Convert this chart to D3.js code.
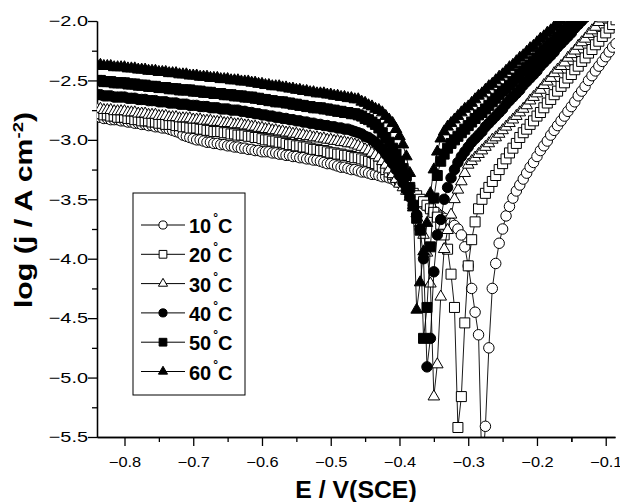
<!DOCTYPE html>
<html lang="en">
<head>
<meta charset="UTF-8">
<title>Tafel plots</title>
<script src="https://d3js.org/d3.v7.min.js"></script>
<style>
  body { margin: 0; background: #fff; }
  text { font-family: "Liberation Sans", Arial, sans-serif; fill: #000; }
</style>
</head>
<body>
<div id="chart"></div>
<script>

// potential of each sampled point, V vs SCE (same scan grid for every temperature)
var potential = [
  -0.840,-0.835,-0.830,-0.825,-0.820,-0.815,-0.810,-0.805,-0.800,-0.795,
  -0.790,-0.785,-0.780,-0.775,-0.770,-0.765,-0.760,-0.755,-0.750,-0.745,
  -0.740,-0.735,-0.730,-0.725,-0.720,-0.715,-0.710,-0.705,-0.700,-0.695,
  -0.690,-0.685,-0.680,-0.675,-0.670,-0.665,-0.660,-0.655,-0.650,-0.645,
  -0.640,-0.635,-0.630,-0.625,-0.620,-0.615,-0.610,-0.605,-0.600,-0.595,
  -0.590,-0.585,-0.580,-0.575,-0.570,-0.565,-0.560,-0.555,-0.550,-0.545,
  -0.540,-0.535,-0.530,-0.525,-0.520,-0.515,-0.510,-0.505,-0.500,-0.495,
  -0.490,-0.485,-0.480,-0.475,-0.470,-0.465,-0.460,-0.455,-0.450,-0.445,
  -0.440,-0.435,-0.430,-0.425,-0.420,-0.415,-0.410,-0.405,-0.400,-0.395,
  -0.390,-0.385,-0.380,-0.375,-0.370,-0.365,-0.360,-0.355,-0.350,-0.345,
  -0.340,-0.335,-0.330,-0.325,-0.320,-0.315,-0.310,-0.305,-0.300,-0.295,
  -0.290,-0.285,-0.280,-0.275,-0.270,-0.265,-0.260,-0.255,-0.250,-0.245,
  -0.240,-0.235,-0.230,-0.225,-0.220,-0.215,-0.210,-0.205,-0.200,-0.195,
  -0.190,-0.185,-0.180,-0.175,-0.170,-0.165,-0.160,-0.155,-0.150,-0.145,
  -0.140,-0.135,-0.130,-0.125,-0.120,-0.115,-0.110,-0.105,-0.100,-0.095,
  -0.090,-0.085
];

// log(j / A cm-2), one value per potential above
var logj10 = [
  -2.81,-2.81,-2.82,-2.82,-2.83,-2.83,-2.83,-2.84,-2.84,-2.85,
  -2.85,-2.86,-2.86,-2.87,-2.87,-2.88,-2.88,-2.89,-2.89,-2.90,
  -2.90,-2.91,-2.92,-2.93,-2.94,-2.96,-2.97,-2.98,-2.99,-3.00,
  -3.00,-3.01,-3.02,-3.02,-3.03,-3.03,-3.04,-3.04,-3.05,-3.05,
  -3.06,-3.06,-3.07,-3.07,-3.08,-3.08,-3.09,-3.09,-3.10,-3.10,
  -3.10,-3.11,-3.11,-3.12,-3.12,-3.13,-3.13,-3.14,-3.14,-3.15,
  -3.15,-3.16,-3.16,-3.17,-3.17,-3.18,-3.19,-3.20,-3.20,-3.21,
  -3.22,-3.23,-3.23,-3.24,-3.25,-3.25,-3.26,-3.27,-3.27,-3.28,
  -3.29,-3.29,-3.30,-3.31,-3.31,-3.32,-3.33,-3.35,-3.36,-3.38,
  -3.41,-3.44,-3.47,-3.49,-3.52,-3.54,-3.56,-3.58,-3.60,-3.62,
  -3.64,-3.66,-3.68,-3.70,-3.72,-3.75,-3.80,-3.90,-4.06,-4.25,
  -4.45,-4.64,-5.80,-5.41,-4.75,-4.25,-4.04,-3.87,-3.75,-3.64,
  -3.56,-3.49,-3.43,-3.38,-3.33,-3.28,-3.23,-3.19,-3.14,-3.09,
  -3.05,-3.01,-2.96,-2.92,-2.88,-2.84,-2.80,-2.76,-2.72,-2.68,
  -2.63,-2.59,-2.55,-2.50,-2.46,-2.42,-2.38,-2.34,-2.30,-2.26,
  -2.22,-2.19
];
var logj20 = [
  -2.78,-2.78,-2.79,-2.79,-2.80,-2.80,-2.81,-2.81,-2.81,-2.82,
  -2.82,-2.83,-2.83,-2.84,-2.84,-2.84,-2.85,-2.85,-2.86,-2.86,
  -2.87,-2.87,-2.87,-2.88,-2.88,-2.89,-2.89,-2.90,-2.90,-2.90,
  -2.91,-2.91,-2.92,-2.92,-2.93,-2.93,-2.93,-2.94,-2.94,-2.95,
  -2.95,-2.96,-2.96,-2.96,-2.97,-2.97,-2.98,-2.98,-2.99,-3.00,
  -3.00,-3.01,-3.01,-3.02,-3.02,-3.03,-3.04,-3.04,-3.05,-3.05,
  -3.06,-3.06,-3.07,-3.08,-3.08,-3.09,-3.09,-3.10,-3.11,-3.11,
  -3.12,-3.12,-3.13,-3.13,-3.14,-3.15,-3.15,-3.16,-3.17,-3.18,
  -3.19,-3.20,-3.22,-3.23,-3.25,-3.27,-3.29,-3.31,-3.33,-3.36,
  -3.40,-3.42,-3.45,-3.47,-3.50,-3.52,-3.55,-3.58,-3.61,-3.65,
  -3.71,-3.80,-3.92,-4.13,-4.41,-5.42,-5.16,-4.54,-4.06,-3.84,
  -3.69,-3.58,-3.50,-3.45,-3.40,-3.35,-3.30,-3.25,-3.20,-3.16,
  -3.11,-3.07,-3.03,-2.98,-2.94,-2.91,-2.87,-2.84,-2.80,-2.77,
  -2.73,-2.69,-2.66,-2.62,-2.59,-2.55,-2.52,-2.48,-2.45,-2.41,
  -2.38,-2.34,-2.31,-2.27,-2.24,-2.20,-2.17,-2.13,-2.10,-2.06,
  -2.03,-1.99
];
var logj30 = [
  -2.74,-2.74,-2.75,-2.75,-2.75,-2.76,-2.76,-2.76,-2.76,-2.77,
  -2.77,-2.77,-2.78,-2.78,-2.78,-2.79,-2.79,-2.79,-2.80,-2.80,
  -2.80,-2.81,-2.81,-2.81,-2.82,-2.82,-2.82,-2.82,-2.83,-2.83,
  -2.83,-2.84,-2.84,-2.84,-2.85,-2.85,-2.85,-2.86,-2.86,-2.86,
  -2.87,-2.87,-2.87,-2.88,-2.88,-2.89,-2.89,-2.90,-2.90,-2.91,
  -2.91,-2.92,-2.92,-2.93,-2.93,-2.94,-2.94,-2.95,-2.95,-2.96,
  -2.96,-2.97,-2.97,-2.98,-2.98,-2.99,-2.99,-3.00,-3.00,-3.01,
  -3.01,-3.02,-3.02,-3.03,-3.03,-3.04,-3.05,-3.06,-3.08,-3.09,
  -3.11,-3.13,-3.15,-3.18,-3.21,-3.25,-3.29,-3.33,-3.37,-3.40,
  -3.43,-3.48,-3.55,-3.62,-3.70,-3.80,-3.95,-4.21,-5.16,-4.89,
  -4.32,-3.92,-3.76,-3.63,-3.50,-3.42,-3.35,-3.28,-3.21,-3.18,
  -3.15,-3.12,-3.09,-3.06,-3.03,-3.00,-2.98,-2.95,-2.92,-2.89,
  -2.86,-2.83,-2.80,-2.77,-2.74,-2.71,-2.67,-2.64,-2.61,-2.58,
  -2.54,-2.51,-2.48,-2.44,-2.41,-2.38,-2.35,-2.31,-2.28,-2.25,
  -2.21,-2.18,-2.15,-2.11,-2.08,-2.05,-2.01,-1.98
];
var logj40 = [
  -2.62,-2.62,-2.63,-2.63,-2.63,-2.64,-2.64,-2.64,-2.64,-2.65,
  -2.65,-2.65,-2.66,-2.66,-2.66,-2.67,-2.67,-2.67,-2.68,-2.68,
  -2.68,-2.69,-2.69,-2.69,-2.70,-2.70,-2.70,-2.71,-2.71,-2.71,
  -2.72,-2.72,-2.72,-2.73,-2.73,-2.73,-2.74,-2.74,-2.74,-2.75,
  -2.75,-2.75,-2.76,-2.76,-2.77,-2.77,-2.78,-2.78,-2.79,-2.79,
  -2.80,-2.80,-2.81,-2.81,-2.82,-2.82,-2.83,-2.83,-2.84,-2.84,
  -2.85,-2.85,-2.86,-2.86,-2.87,-2.87,-2.88,-2.88,-2.89,-2.89,
  -2.90,-2.90,-2.91,-2.91,-2.92,-2.93,-2.94,-2.95,-2.97,-2.98,
  -3.00,-3.02,-3.05,-3.08,-3.12,-3.16,-3.20,-3.25,-3.30,-3.36,
  -3.42,-3.48,-3.55,-3.63,-3.75,-4.00,-4.91,-4.67,-4.11,-3.80,
  -3.67,-3.50,-3.40,-3.32,-3.25,-3.19,-3.14,-3.10,-3.06,-3.02,
  -2.99,-2.96,-2.93,-2.89,-2.86,-2.83,-2.80,-2.77,-2.74,-2.70,
  -2.67,-2.64,-2.61,-2.58,-2.54,-2.51,-2.48,-2.45,-2.42,-2.38,
  -2.35,-2.32,-2.29,-2.26,-2.22,-2.19,-2.16,-2.13,-2.10,-2.06,
  -2.03,-2.00,-1.97
];
var logj50 = [
  -2.50,-2.50,-2.51,-2.51,-2.51,-2.52,-2.52,-2.52,-2.52,-2.53,
  -2.53,-2.53,-2.54,-2.54,-2.54,-2.55,-2.55,-2.55,-2.56,-2.56,
  -2.56,-2.57,-2.57,-2.57,-2.58,-2.58,-2.58,-2.58,-2.59,-2.59,
  -2.59,-2.60,-2.60,-2.60,-2.61,-2.61,-2.61,-2.62,-2.62,-2.62,
  -2.63,-2.63,-2.63,-2.64,-2.64,-2.64,-2.65,-2.65,-2.66,-2.66,
  -2.67,-2.67,-2.68,-2.68,-2.68,-2.69,-2.69,-2.70,-2.70,-2.71,
  -2.71,-2.72,-2.72,-2.73,-2.73,-2.73,-2.74,-2.74,-2.75,-2.75,
  -2.76,-2.76,-2.77,-2.77,-2.78,-2.78,-2.79,-2.80,-2.82,-2.83,
  -2.85,-2.87,-2.90,-2.94,-2.98,-3.02,-3.07,-3.12,-3.18,-3.24,
  -3.30,-3.40,-3.55,-3.66,-3.76,-4.67,-4.41,-3.90,-3.49,-3.30,
  -3.18,-3.12,-3.07,-3.03,-3.00,-2.97,-2.94,-2.91,-2.88,-2.85,
  -2.82,-2.79,-2.77,-2.74,-2.71,-2.68,-2.65,-2.62,-2.59,-2.57,
  -2.54,-2.51,-2.48,-2.45,-2.42,-2.39,-2.37,-2.34,-2.31,-2.28,
  -2.25,-2.22,-2.19,-2.17,-2.14,-2.11,-2.08,-2.05,-2.02,-1.99
];
var logj60 = [
  -2.37,-2.37,-2.38,-2.38,-2.38,-2.39,-2.39,-2.39,-2.39,-2.40,
  -2.40,-2.40,-2.41,-2.41,-2.41,-2.42,-2.42,-2.42,-2.43,-2.43,
  -2.43,-2.44,-2.44,-2.44,-2.45,-2.45,-2.45,-2.46,-2.46,-2.46,
  -2.47,-2.47,-2.47,-2.48,-2.48,-2.48,-2.49,-2.49,-2.49,-2.50,
  -2.50,-2.50,-2.51,-2.51,-2.51,-2.52,-2.52,-2.53,-2.53,-2.54,
  -2.54,-2.55,-2.55,-2.55,-2.56,-2.56,-2.57,-2.57,-2.58,-2.58,
  -2.59,-2.59,-2.60,-2.60,-2.61,-2.61,-2.61,-2.62,-2.62,-2.63,
  -2.63,-2.64,-2.64,-2.65,-2.65,-2.66,-2.66,-2.68,-2.69,-2.71,
  -2.72,-2.74,-2.75,-2.77,-2.80,-2.83,-2.86,-2.91,-2.97,-3.04,
  -3.14,-3.28,-3.57,-4.43,-4.20,-3.94,-3.70,-3.45,-3.25,-3.10,
  -2.99,-2.93,-2.89,-2.86,-2.83,-2.80,-2.77,-2.74,-2.72,-2.69,
  -2.66,-2.63,-2.61,-2.58,-2.55,-2.53,-2.50,-2.47,-2.45,-2.42,
  -2.39,-2.37,-2.34,-2.31,-2.29,-2.26,-2.23,-2.21,-2.18,-2.15,
  -2.13,-2.10,-2.08,-2.05,-2.03,-2.00,-1.97
];

var labels = ["10", "20", "30", "40", "50", "60"];
var curves = [logj10, logj20, logj30, logj40, logj50, logj60];
var xTicks = [-0.8, -0.7, -0.6, -0.5, -0.4, -0.3, -0.2, -0.1];
var yTicks = [-5.5, -5.0, -4.5, -4.0, -3.5, -3.0, -2.5, -2.0];

// marker shape and fill for each temperature
var shapes = [d3.symbolCircle, d3.symbolSquare, d3.symbolTriangle,
              d3.symbolCircle, d3.symbolSquare, d3.symbolTriangle];
var sizes = [86, 100, 58, 86, 100, 58];
var legendSizes = [52, 60, 36, 52, 60, 36];
var filled = [false, false, false, true, true, true];

var margin = {top: 21, right: 5, bottom: 65, left: 97},
    width = 620 - margin.left - margin.right,
    height = 502 - margin.top - margin.bottom;

var svg = d3.select("#chart")
    .append("svg")
    .attr("width", 620)
    .attr("height", 502);

var g = svg.append("g")
    .attr("transform", "translate(" + margin.left + "," + margin.top + ")");

var x = d3.scaleLinear().domain([-0.84, -0.0865]).range([0, width]);
var y = d3.scaleLinear().domain([-5.5, -2.0]).range([height, 0]);

g.append("clipPath").attr("id", "plotclip")
  .append("rect").attr("width", width).attr("height", height);

// minor ticks
var xMinor = xTicks.map(function(d) { return d - 0.05; }).concat([-0.15]).filter(function(d) { return d > -0.84; });
var yMinor = yTicks.slice(1).map(function(d) { return d - 0.25; });

g.append("g")
    .attr("transform", "translate(0," + height + ")")
    .call(d3.axisBottom(x).tickValues(xMinor).tickSize(5).tickSizeOuter(0).tickFormat(""));
g.append("g")
    .call(d3.axisLeft(y).tickValues(yMinor).tickSize(5).tickSizeOuter(0).tickFormat(""));

var xAxis = g.append("g")
    .attr("transform", "translate(0," + height + ")")
    .call(d3.axisBottom(x).tickValues(xTicks).tickSize(9).tickSizeOuter(0)
        .tickPadding(11).tickFormat(d3.format(".1f")));
var yAxis = g.append("g")
    .call(d3.axisLeft(y).tickValues(yTicks).tickSize(9).tickSizeOuter(0)
        .tickPadding(3).tickFormat(d3.format(".1f")));

svg.selectAll(".domain, .tick line").attr("stroke", "#000").attr("stroke-width", 1.3);
svg.selectAll(".tick text").style("font-family", "Liberation Sans, Arial, sans-serif");
// the tick labels of the original are drawn wide
xAxis.selectAll(".tick text").style("font-size", "14px")
    .attr("transform", "scale(1.17,1)");
yAxis.selectAll(".tick text").style("font-size", "15px")
    .attr("transform", "scale(1.33,1)")
    .attr("x", -9 / 1.33);

// curves
var plot = g.append("g").attr("clip-path", "url(#plotclip)");
var line = d3.line()
    .x(function(d) { return x(d[0]); })
    .y(function(d) { return y(d[1]); });

curves.forEach(function(vals, k) {
    var pts = vals.map(function(v, i) { return [potential[i], v]; });
    plot.append("path")
        .datum(pts)
        .attr("fill", "none")
        .attr("stroke", "#000")
        .attr("stroke-width", 0.9)
        .attr("d", line);
    plot.selectAll(".m" + k)
        .data(pts)
        .enter()
        .append("path")
        .attr("class", "m" + k)
        .attr("transform", function(d) { return "translate(" + x(d[0]) + "," + y(d[1]) + ")"; })
        .attr("d", d3.symbol().type(shapes[k]).size(sizes[k]))
        .attr("fill", filled[k] ? "#000" : "#fff")
        .attr("stroke", "#000")
        .attr("stroke-width", 1);
});

// axis titles
svg.append("text")
    .attr("transform", "translate(" + (margin.left + width / 2) + ",498) scale(1.08,1)")
    .attr("text-anchor", "middle")
    .style("font-size", "23px")
    .style("font-weight", "bold")
    .text("E / V(SCE)");

var yt = svg.append("text")
    .attr("transform", "translate(32,210) rotate(-90) scale(1.32,1)")
    .attr("text-anchor", "middle")
    .style("font-size", "23px")
    .style("font-weight", "bold");
yt.append("tspan").text("log (j / A cm");
yt.append("tspan").attr("dy", -9).style("font-size", "14px").text("-2");
yt.append("tspan").attr("dy", 9).text(")");

// legend
var legend = svg.append("g");
legend.append("rect")
    .attr("x", 133).attr("y", 193)
    .attr("width", 112).attr("height", 202)
    .attr("fill", "#fff").attr("stroke", "#000").attr("stroke-width", 1);

labels.forEach(function(lab, k) {
    var cy = 225 + k * 29.3;
    legend.append("line")
        .attr("x1", 141).attr("x2", 185).attr("y1", cy).attr("y2", cy)
        .attr("stroke", "#000").attr("stroke-width", 1);
    legend.append("path")
        .attr("transform", "translate(163," + cy + ")")
        .attr("d", d3.symbol().type(shapes[k]).size(legendSizes[k]))
        .attr("fill", filled[k] ? "#000" : "#fff")
        .attr("stroke", "#000");
    var t = legend.append("text")
        .attr("x", 189).attr("y", cy + 8)
        .style("font-size", "20px").style("font-weight", "bold");
    t.append("tspan").text(lab);
    t.append("tspan").attr("dx", 2).attr("dy", -11).style("font-size", "12px").text("\u00b0");
    t.append("tspan").attr("dx", 0).attr("dy", 11).text("C");
});

</script>
</body>
</html>
